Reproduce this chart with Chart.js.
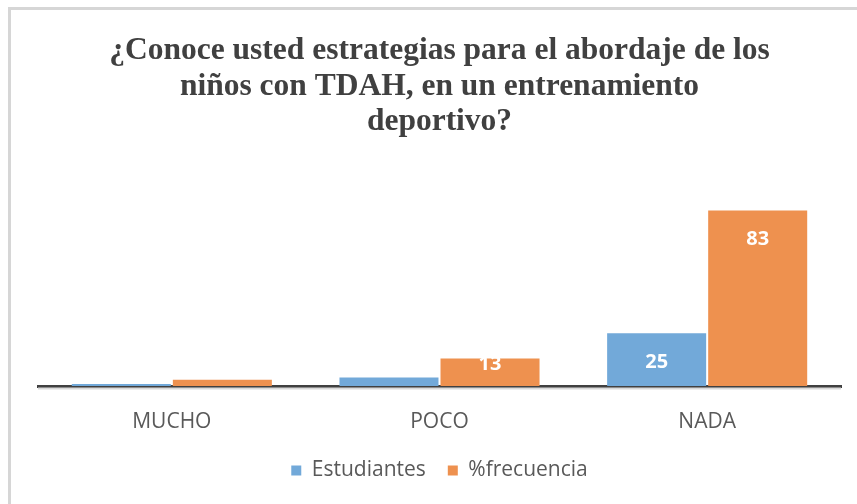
<!DOCTYPE html>
<html>
<head>
<meta charset="utf-8">
<script src="https://cdn.jsdelivr.net/npm/chart.js@4"></script>
<style>
  html, body { margin: 0; padding: 0; background: #ffffff; }
  #wrap { position: absolute; left: 8px; top: 7px; width: 846px; height: 494px;
          border-left: 3px solid #d6d6d6; border-top: 3px solid #d6d6d6; }
  canvas { display: block; }
</style>
</head>
<body>
<div id="wrap"><canvas id="c" width="846" height="494"></canvas></div>
<script>
const categories = ["MUCHO", "POCO", "NADA"];
const estudiantes = [1, 4, 25];
const frecuencia = [3, 13, 83];
const seriesNames = ["Estudiantes", "%frecuencia"];
const titleLines = ["¿Conoce usted estrategias para el abordaje de los", "niños con TDAH, en un entrenamiento", "deportivo?"];

const barLabels = {
  id: 'barLabels',
  afterDatasetsDraw(chart) {
    const ctx = chart.ctx;
    ctx.save();
    ctx.font = 'bold 20px "Open Sans", sans-serif';
    ctx.fillStyle = '#ffffff';
    ctx.textAlign = 'center';
    ctx.textBaseline = 'middle';
    chart.data.datasets.forEach((ds, di) => {
      const meta = chart.getDatasetMeta(di);
      meta.data.forEach((bar, i) => {
        const base = bar.base;
        const y = Math.min(bar.y + 29, base - 22);
        if (y + 7 < bar.y) return; // label would fall outside the bar
        ctx.fillText(String(ds.data[i]), bar.x, y);
      });
    });
    ctx.restore();
  },
  afterDraw(chart) {
    const ctx = chart.ctx, a = chart.chartArea;
    ctx.save();
    ctx.fillStyle = '#d9d9d9';
    ctx.fillRect(a.left, a.bottom + 1.5, a.right - a.left, 2);
    ctx.restore();
  }
};

new Chart(document.getElementById('c'), {
  type: 'bar',
  data: {
    labels: categories,
    datasets: [
      { label: seriesNames[0], data: estudiantes, backgroundColor: '#72a9d9',
        categoryPercentage: 0.755, barPercentage: 0.98 },
      { label: seriesNames[1], data: frecuencia, backgroundColor: '#ee914f',
        categoryPercentage: 0.755, barPercentage: 0.98 }
    ]
  },
  options: {
    responsive: false,
    devicePixelRatio: 1,
    animation: false,
    layout: { padding: { left: 27, right: 16, top: 0, bottom: 13 } },
    plugins: {
      title: {
        display: true,
        text: titleLines,
        color: '#404040',
        font: { family: '"Liberation Serif", "Times New Roman", serif', size: 31.5, weight: 'bold', lineHeight: 1.13 },
        padding: { top: 23, bottom: 56 }
      },
      legend: {
        position: 'bottom',
        labels: {
          color: '#595959',
          font: { family: '"Open Sans", sans-serif', size: 21 },
          boxWidth: 10, boxHeight: 10, padding: 22
        }
      },
      tooltip: { enabled: false }
    },
    scales: {
      x: {
        grid: { display: false },
        border: { display: true, color: '#404040', width: 3 },
        ticks: { color: '#595959', font: { family: '"Open Sans", sans-serif', size: 21 }, padding: 15 },
        afterFit(s) { s.height = 52; }
      },
      y: {
        display: false,
        min: 0, max: 90
      }
    }
  },
  plugins: [barLabels]
});
</script>
</body>
</html>
